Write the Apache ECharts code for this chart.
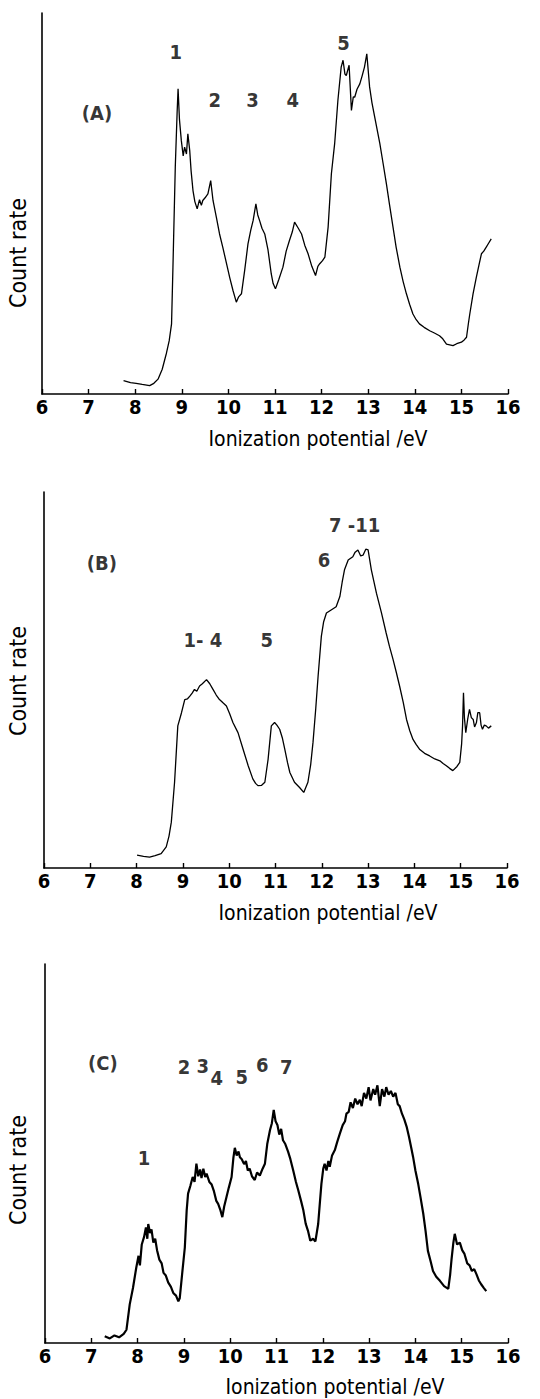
<!DOCTYPE html>
<html>
<head>
<meta charset="utf-8">
<script src="https://cdn.jsdelivr.net/npm/echarts@6/dist/echarts.min.js"></script>
<style>
html,body{margin:0;padding:0;background:#fff;}
#chart{width:540px;height:1399px;}
</style>
</head>
<body>
<div id="chart"></div>
<script>
// ---- Data (x = ionization potential in eV, y = relative count rate, % of axis height) ----
const xTicks = [6, 7, 8, 9, 10, 11, 12, 13, 14, 15, 16];

const spectrumA = [
  [7.75,3.5],[7.90,3.0],[8.02,2.8],[8.15,2.5],[8.31,2.2],[8.40,2.8],[8.49,3.9],[8.58,6.5],[8.67,10.7],[8.73,14.0],[8.78,18.4],
  [8.81,33.3],[8.86,59.5],[8.90,74.0],[8.92,80.1],[8.95,72.0],[8.99,66.5],[9.03,62.5],[9.06,64.8],[9.10,63.0],[9.13,68.3],
  [9.17,63.9],[9.20,58.5],[9.24,53.4],[9.28,50.5],[9.33,48.6],[9.38,51.0],[9.42,49.5],[9.45,50.8],[9.50,51.5],[9.56,52.5],
  [9.62,56.0],[9.67,50.8],[9.74,46.5],[9.81,42.0],[9.88,38.5],[9.96,34.2],[10.03,30.5],[10.10,27.1],[10.17,24.1],[10.22,25.5],
  [10.28,26.3],[10.35,32.5],[10.42,39.4],[10.48,43.0],[10.53,45.5],[10.59,49.9],[10.63,47.0],[10.67,45.5],[10.72,43.5],[10.78,42.0],
  [10.85,37.8],[10.92,31.5],[10.96,29.0],[11.01,27.6],[11.08,30.0],[11.17,33.3],[11.24,37.5],[11.31,40.3],[11.37,42.5],[11.42,45.1],
  [11.50,43.5],[11.57,42.0],[11.64,39.0],[11.71,36.8],[11.79,33.5],[11.87,31.1],[11.92,33.5],[11.96,34.2],[12.02,35.0],[12.07,35.9],
  [12.14,43.8],[12.21,57.8],[12.28,65.7],[12.35,77.1],[12.42,85.8],[12.46,87.6],[12.50,84.0],[12.53,83.6],[12.59,86.3],[12.64,74.4],
  [12.68,78.0],[12.71,77.9],[12.76,80.0],[12.82,81.4],[12.87,83.5],[12.92,85.8],[12.97,89.3],[13.03,80.6],[13.08,76.5],[13.14,72.7],
  [13.25,65.7],[13.32,60.5],[13.39,55.2],[13.46,49.5],[13.53,44.0],[13.60,38.5],[13.68,33.3],[13.75,29.5],[13.82,26.3],[13.89,23.5],
  [13.96,21.0],[14.03,19.5],[14.10,18.4],[14.20,17.5],[14.32,16.6],[14.42,16.0],[14.53,15.3],[14.60,14.5],[14.68,13.1],[14.75,12.9],
  [14.82,12.7],[14.90,13.2],[15.00,13.6],[15.06,14.2],[15.11,14.9],[15.15,18.5],[15.18,21.0],[15.25,26.3],[15.32,30.6],[15.38,34.0],
  [15.43,36.8],[15.48,37.5],[15.53,38.5],[15.58,39.5],[15.64,40.7]
];

const spectrumB = [
  [8.01,3.4],[8.15,3.1],[8.28,2.9],[8.40,3.3],[8.53,3.8],[8.64,5.6],[8.70,8.5],[8.75,12.2],[8.82,22.8],[8.89,37.8],[8.97,41.3],
  [9.04,44.8],[9.10,45.0],[9.15,45.7],[9.20,46.5],[9.25,47.5],[9.30,47.0],[9.36,48.4],[9.42,49.0],[9.51,50.1],[9.58,49.0],
  [9.65,47.5],[9.72,46.0],[9.79,44.8],[9.86,44.0],[9.94,43.1],[10.01,41.0],[10.08,38.7],[10.19,36.0],[10.30,31.6],[10.41,27.2],
  [10.51,23.7],[10.57,22.5],[10.62,21.9],[10.70,22.0],[10.77,22.8],[10.84,28.9],[10.91,37.8],[10.98,38.7],[11.03,38.0],[11.09,36.9],
  [11.15,34.5],[11.20,31.6],[11.26,28.0],[11.31,25.4],[11.41,22.8],[11.52,21.4],[11.61,20.1],[11.70,22.8],[11.76,27.5],[11.81,33.4],
  [11.87,42.5],[11.92,51.0],[11.99,61.6],[12.04,65.5],[12.10,67.8],[12.21,68.7],[12.31,69.5],[12.39,72.2],[12.44,76.0],[12.49,79.3],
  [12.57,81.9],[12.67,82.8],[12.72,84.0],[12.78,84.6],[12.84,83.0],[12.89,83.2],[12.95,84.8],[13.00,84.6],[13.07,79.3],[13.18,73.1],
  [13.29,67.8],[13.39,62.5],[13.46,59.0],[13.54,55.4],[13.61,52.0],[13.68,48.4],[13.76,44.0],[13.83,39.5],[13.90,36.5],[13.97,34.2],
  [14.04,32.8],[14.11,31.6],[14.22,30.5],[14.33,29.8],[14.44,29.0],[14.55,28.5],[14.62,27.8],[14.69,27.2],[14.76,26.5],[14.83,25.9],
  [14.92,27.0],[14.98,28.1],[15.02,33.0],[15.04,37.8],[15.06,46.6],[15.08,40.0],[15.11,36.0],[15.15,39.5],[15.19,42.2],[15.23,40.0],
  [15.27,39.5],[15.30,37.5],[15.34,38.7],[15.37,41.3],[15.41,41.3],[15.44,38.0],[15.47,36.9],[15.51,38.0],[15.55,37.8],[15.60,37.2],
  [15.66,37.8]
];

const spectrumC = [
  [7.29,1.8],[7.40,1.2],[7.50,2.0],[7.60,1.5],[7.70,2.4],[7.76,3.5],[7.83,10.2],[7.90,14.5],[7.97,19.8],[8.02,23.0],[8.05,20.5],
  [8.09,26.0],[8.14,28.0],[8.18,30.5],[8.21,27.5],[8.23,31.4],[8.27,29.0],[8.30,30.0],[8.34,26.5],[8.38,27.5],[8.42,24.5],[8.47,22.0],
  [8.52,21.0],[8.56,18.5],[8.61,17.8],[8.66,16.0],[8.72,14.8],[8.77,13.2],[8.83,12.5],[8.88,11.0],[8.91,11.8],[8.96,18.0],[9.02,25.2],
  [9.06,35.0],[9.09,39.4],[9.14,41.5],[9.19,43.8],[9.23,42.5],[9.27,47.3],[9.31,44.0],[9.35,45.8],[9.38,43.5],[9.42,46.0],[9.46,43.8],
  [9.49,44.7],[9.55,42.5],[9.60,41.8],[9.65,40.0],[9.70,37.5],[9.74,36.7],[9.79,35.0],[9.83,33.2],[9.87,36.0],[9.92,38.5],[9.97,41.0],
  [10.03,43.8],[10.07,49.0],[10.10,51.5],[10.14,49.5],[10.18,50.5],[10.21,49.0],[10.25,48.5],[10.30,47.2],[10.34,48.0],[10.38,45.5],
  [10.42,46.0],[10.47,44.0],[10.53,43.0],[10.58,45.0],[10.64,44.2],[10.70,46.0],[10.75,47.3],[10.80,52.5],[10.86,56.2],[10.90,58.0],
  [10.94,61.5],[10.98,58.5],[11.02,57.5],[11.06,55.0],[11.10,56.5],[11.14,53.5],[11.19,52.5],[11.25,50.5],[11.30,48.5],[11.36,45.6],
  [11.42,42.5],[11.47,40.3],[11.53,37.5],[11.58,35.0],[11.63,31.5],[11.68,29.6],[11.73,27.0],[11.79,27.5],[11.84,26.8],[11.90,31.4],
  [11.94,37.5],[11.97,42.0],[12.01,46.0],[12.04,47.3],[12.08,45.5],[12.12,48.0],[12.15,46.5],[12.20,49.5],[12.26,50.9],[12.31,53.0],
  [12.37,55.3],[12.43,57.5],[12.48,58.5],[12.51,60.5],[12.56,61.0],[12.60,63.5],[12.65,62.0],[12.70,64.5],[12.75,63.0],[12.80,64.2],
  [12.84,62.5],[12.89,66.0],[12.94,64.5],[12.99,67.5],[13.03,64.0],[13.09,67.0],[13.13,65.5],[13.18,68.0],[13.23,62.5],[13.28,67.0],
  [13.33,65.0],[13.37,67.5],[13.42,65.5],[13.47,66.5],[13.52,65.0],[13.57,66.0],[13.62,63.0],[13.66,62.5],[13.71,60.5],[13.76,59.0],
  [13.81,57.1],[13.86,54.5],[13.91,51.5],[13.95,49.1],[14.00,45.5],[14.06,42.0],[14.11,38.5],[14.17,34.1],[14.22,29.5],[14.27,24.3],
  [14.33,21.5],[14.38,19.0],[14.45,17.5],[14.53,16.4],[14.62,15.0],[14.71,14.3],[14.75,18.0],[14.78,22.0],[14.82,26.5],[14.85,28.8],
  [14.90,26.0],[14.96,26.5],[15.01,24.5],[15.06,23.5],[15.12,21.0],[15.17,20.5],[15.22,19.0],[15.27,19.5],[15.32,18.1],[15.37,16.5],
  [15.42,15.5],[15.48,14.5],[15.53,13.7]
];

// band labels: [x, y, text]
const labelsA = [[7.18,73.8,'(A)'],[8.87,89.8,'1'],[9.71,77.2,'2'],[10.52,77.2,'3'],[11.38,77.2,'4'],[12.47,92.1,'5']];
const labelsB = [[7.25,81.1,'(B)'],[9.43,60.7,'1- 4'],[10.81,60.7,'5'],[12.05,81.9,'6'],[12.71,91.2,'7 -11']];
const labelsC = [[7.25,73.9,'(C)'],[8.14,48.8,'1'],[9.0,72.8,'2'],[9.41,73.1,'3'],[9.71,69.9,'4'],[10.25,70.2,'5'],[10.69,73.4,'6'],[11.21,72.8,'7']];

const xTitle = 'Ionization potential /eV';
const yTitle = 'Count rate';

// ---- Chart ----
const FONT = "'Liberation Sans Narrow','DejaVu Sans Condensed','Liberation Sans',sans-serif";
const INK = '#000';
const grids = [
  {left: 42, top: 13, width: 466, height: 381},
  {left: 44, top: 492, width: 463, height: 376},
  {left: 45, top: 964, width: 463, height: 379}
];
const spectra = [spectrumA, spectrumB, spectrumC];
const labelSets = [labelsA, labelsB, labelsC];
const lineWidths = [1.3, 1.3, 2.2];

const xAxes = grids.map((g, i) => ({
  gridIndex: i, type: 'value', min: 6, max: 16, interval: 1,
  axisLine: {show: true, lineStyle: {color: INK, width: 1.6}},
  axisTick: {show: true, inside: true, length: 5, lineStyle: {color: INK, width: 1.4}},
  axisLabel: {show: true, margin: 3, color: INK, fontFamily: FONT, fontSize: 20, fontWeight: 'bold',
              formatter: v => xTicks.includes(v) ? String(v) : ''},
  splitLine: {show: false}
}));
const yAxes = grids.map((g, i) => ({
  gridIndex: i, type: 'value', min: 0, max: 100,
  axisLine: {show: true, lineStyle: {color: INK, width: 1.6}},
  axisTick: {show: false}, axisLabel: {show: false}, splitLine: {show: false}
}));

const series = [];
spectra.forEach((d, i) => {
  series.push({
    type: 'line', xAxisIndex: i, yAxisIndex: i, data: d, symbol: 'none',
    lineStyle: {color: INK, width: lineWidths[i]}, silent: true, animation: false
  });
  series.push({
    type: 'scatter', xAxisIndex: i, yAxisIndex: i, data: labelSets[i], symbolSize: 0,
    silent: true, animation: false,
    label: {show: true, position: 'inside', formatter: p => p.value[2],
            color: INK, fontFamily: FONT, fontSize: 20, fontWeight: 'bold'}
  });
});

const titleText = (x, y, text, rot, size) => ({
  type: 'text', x: x, y: y, rotation: rot || 0,
  style: {text: text, fill: INK, font: (size || 21) + "px " + FONT, textAlign: 'center', textVerticalAlign: 'middle'}
});

const chart = echarts.init(document.getElementById('chart'), null, {renderer: 'svg'});
chart.setOption({
  animation: false,
  backgroundColor: '#fff',
  grid: grids,
  xAxis: xAxes,
  yAxis: yAxes,
  series: series,
  graphic: [
    titleText(318, 439, xTitle), titleText(328, 913, xTitle), titleText(335, 1387, xTitle),
    titleText(18, 253, yTitle, Math.PI / 2, 23), titleText(18, 681, yTitle, Math.PI / 2, 23), titleText(18, 1170, yTitle, Math.PI / 2, 23)
  ]
});
</script>
</body>
</html>
